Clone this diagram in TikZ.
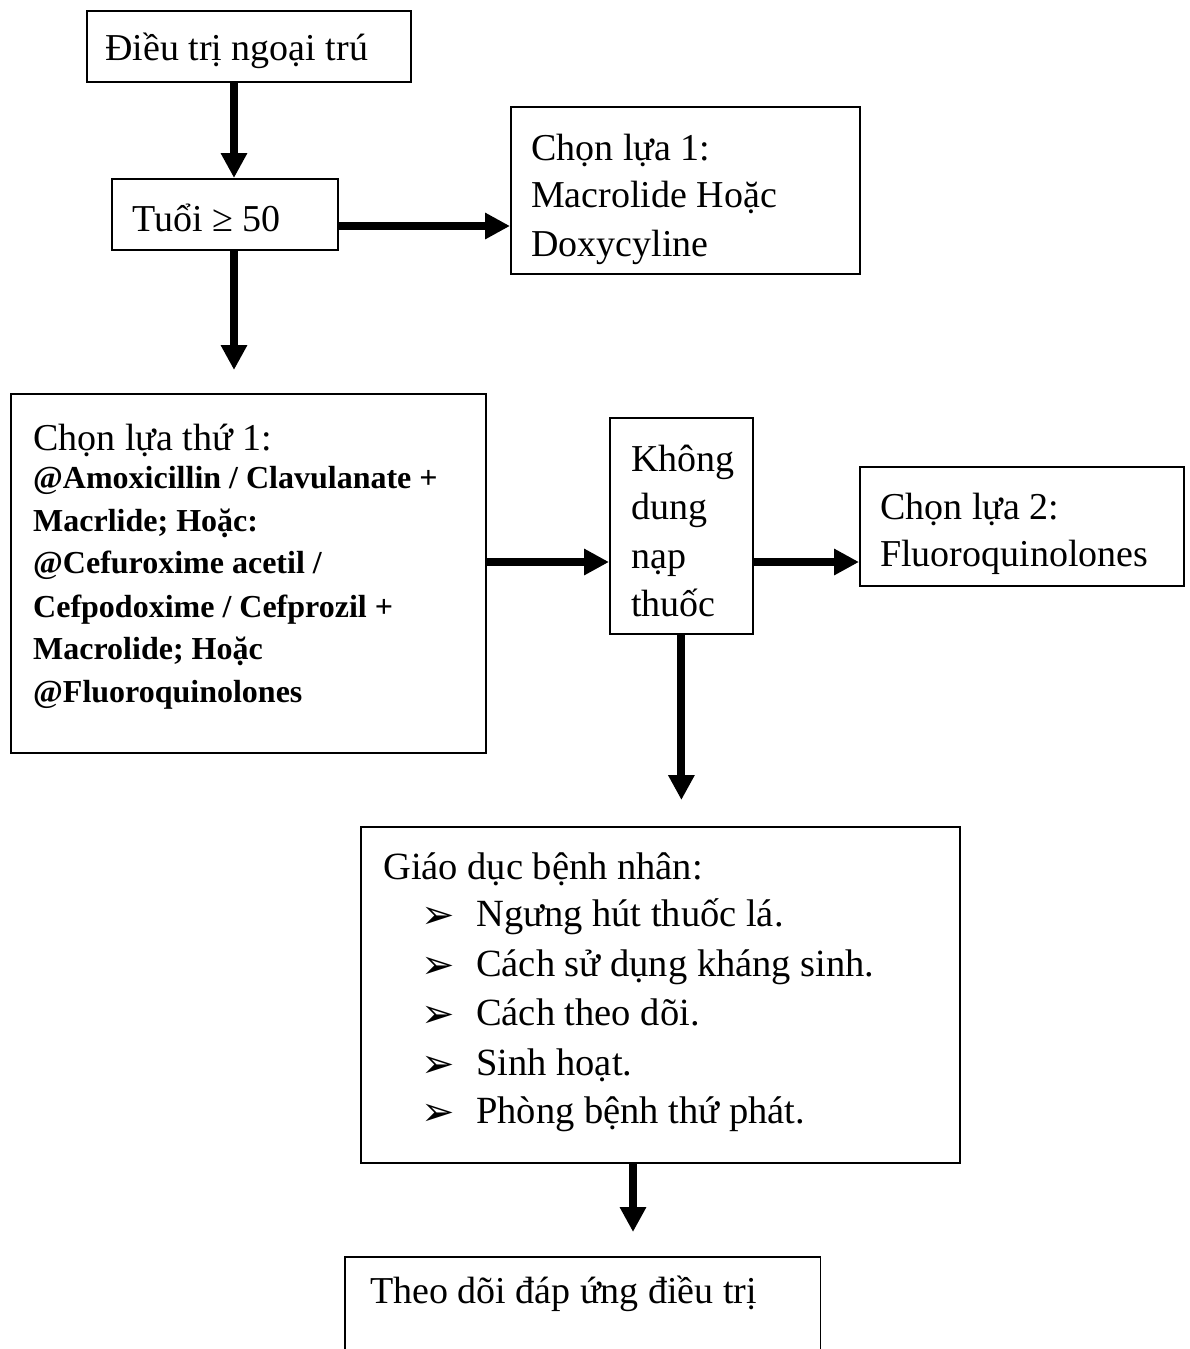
\documentclass[tikz,border=0pt]{standalone}
\usepackage{fontspec}
\setmainfont{Liberation Serif}
\newfontfamily\dingfont{DejaVu Sans}
\usetikzlibrary{arrows.meta}
\begin{document}
\begin{tikzpicture}[x=1pt,y=-1pt,
  box/.style={draw, line width=1.8pt, inner sep=0pt, anchor=north west},
  openbox/.style={draw=none, inner sep=0pt, anchor=north west},
  txt/.style={inner sep=0pt, anchor=base west, font=\fontsize{38}{46}\selectfont},
  gtxt/.style={txt, font=\fontsize{38.5}{46}\selectfont},
  btxt/.style={inner sep=0pt, anchor=base west, font=\fontsize{32}{40}\selectfont\bfseries},
  bul/.style={inner sep=0pt, anchor=base west, font=\dingfont\fontsize{40}{48}\selectfont},
  flow/.style={line width=8pt, -{Triangle[length=25pt,width=25pt]}},
]
\useasboundingbox (0,0) rectangle (1189,1349);

% boxes
\node[box, minimum width=324pt, minimum height=71pt]  (dieu)  at (86,10)   {};
\node[box, minimum width=226pt, minimum height=71pt]  (tuoi)  at (111,178) {};
\node[box, minimum width=349pt, minimum height=167pt] (opt1)  at (510,106) {};
\node[box, minimum width=475pt, minimum height=359pt] (first) at (10,393)  {};
\node[box, minimum width=143pt, minimum height=216pt] (kdn)   at (609,417) {};
\node[box, minimum width=324pt, minimum height=119pt] (opt2)  at (859,466) {};
\node[box, minimum width=599pt, minimum height=336pt] (giao)  at (360,826) {};
\node[openbox, minimum width=475pt, minimum height=92pt] (theo) at (345,1257) {};
\draw[line width=1.8pt] (theo.south west) |- (theo.north east) -- (theo.south east);

% texts
\node[txt] (t-dieu) at (105,60) {Điều trị ngoại trú};
\node[txt] (t-tuoi) at (132,231) {Tuổi ≥ 50};

\node[txt] (t-opt1a) at (531,160) {Chọn lựa 1:};
\node[txt] (t-opt1b) at (531,207) {Macrolide Hoặc};
\node[txt] (t-opt1c) at (531,256) {Doxycyline};

\node[txt]  (t-f0) at (33,450) {Chọn lựa thứ 1:};
\node[btxt] (t-f1) at (33,488) {@Amoxicillin / Clavulanate +};
\node[btxt] (t-f2) at (33,531) {Macrlide; Hoặc:};
\node[btxt] (t-f3) at (33,573) {@Cefuroxime acetil /};
\node[btxt] (t-f4) at (33,617) {Cefpodoxime / Cefprozil +};
\node[btxt] (t-f5) at (33,659) {Macrolide; Hoặc};
\node[btxt] (t-f6) at (33,702) {@Fluoroquinolones};

\node[txt] (t-k1) at (631,471) {Không};
\node[txt] (t-k2) at (631,519) {dung};
\node[txt] (t-k3) at (631,568) {nạp};
\node[txt] (t-k4) at (631,616) {thuốc};

\node[txt] (t-o2a) at (880,519) {Chọn lựa 2:};
\node[txt] (t-o2b) at (880,566) {Fluoroquinolones};

\node[gtxt] (t-g0) at (383,879) {Giáo dục bệnh nhân:};
\node[bul] (b1) at (421,928)  {➢};
\node[gtxt] (t-g1) at (476,926)  {Ngưng hút thuốc lá.};
\node[bul] (b2) at (421,978)  {➢};
\node[gtxt] (t-g2) at (476,976)  {Cách sử dụng kháng sinh.};
\node[bul] (b3) at (421,1027) {➢};
\node[gtxt] (t-g3) at (476,1025) {Cách theo dõi.};
\node[bul] (b4) at (421,1077) {➢};
\node[gtxt] (t-g4) at (476,1075) {Sinh hoạt.};
\node[bul] (b5) at (421,1125) {➢};
\node[gtxt] (t-g5) at (476,1123) {Phòng bệnh thứ phát.};

\node[txt] (t-theo) at (370,1303) {Theo dõi đáp ứng điều trị};

% connector guides
\coordinate (colA) at (234,0);
\coordinate (rowA) at (0,226);
\coordinate (tipA) at (234,370);
\coordinate (rowB) at (0,562);
\coordinate (tipB) at (kdn.south |- 0,800);
\coordinate (colC) at (633,0);
\coordinate (tipC) at (633,1232);

% connectors
\draw[flow] (colA |- dieu.south) -- (colA |- tuoi.north);
\draw[flow] (tuoi.east |- rowA) -- (opt1.west |- rowA);
\draw[flow] (colA |- tuoi.south) -- (tipA);
\draw[flow] (first.east |- rowB) -- (kdn.west |- rowB);
\draw[flow] (kdn.east |- rowB) -- (opt2.west |- rowB);
\draw[flow] (kdn.south) -- (tipB);
\draw[flow] (colC |- giao.south) -- (tipC);
\end{tikzpicture}
\end{document}
